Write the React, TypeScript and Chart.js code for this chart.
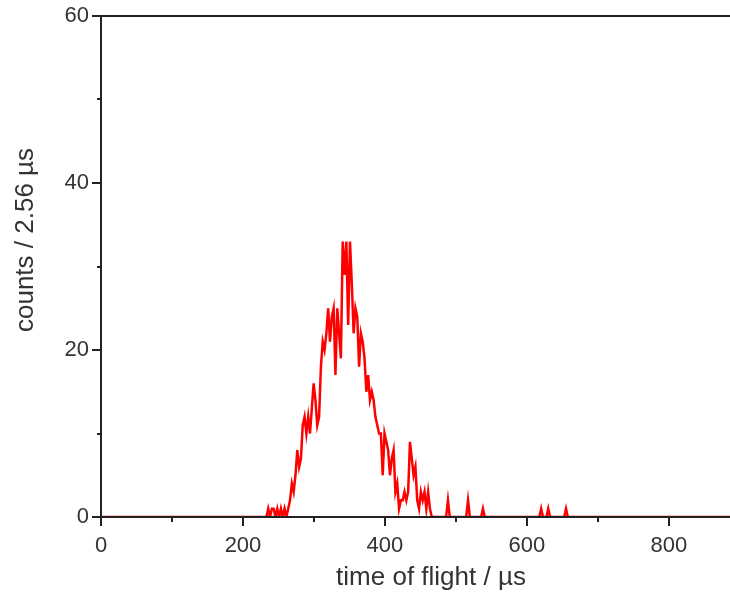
import React, { useEffect, useRef } from "react";
import { Chart, registerables } from "chart.js";

Chart.register(...registerables);

// Time-of-flight histogram (bin width 2.56 µs)
const binWidth = 2.56;
const peakStart = 230.4;
const peakCounts = [
  0, 0, 1, 0, 1, 1, 0, 1, 0, 1, 0, 1, 0, 1, 2, 4, 3, 5, 8, 6,
  7, 11, 12, 10, 12, 10, 13, 16, 14, 11, 12, 18, 21, 20, 22, 25, 21, 24, 25, 17,
  25, 22, 19, 33, 29, 33, 23, 33, 28, 22, 25, 24, 18, 22, 21, 19, 15, 17, 14, 15,
  14, 12, 11, 10, 10, 5, 10, 9, 8, 5, 7, 8, 3, 4, 1, 2, 2, 3, 2, 3,
  9, 7, 5, 6, 2, 1, 3, 2, 3, 1, 3, 1, 0, 0,
];
const eventTimes = [488.7, 517, 538, 620, 630, 655];
const eventCounts = [2, 2, 1, 1, 1, 1];

const xMin = 0;
const xMax = 886;
const yMin = 0;
const yMax = 60;
const xMajorTicks = [0, 200, 400, 600, 800];
const xMinorTicks = [100, 300, 500, 700];
const yMajorTicks = [0, 20, 40, 60];
const yMinorTicks = [10, 30, 50];
const xTitle = "time of flight / µs";
const yTitle = "counts / 2.56 µs";

function buildPoints() {
  const pts: { x: number; y: number }[] = [{ x: xMin, y: 0 }];
  peakCounts.forEach((c, i) => pts.push({ x: peakStart + i * binWidth, y: c }));
  eventTimes.forEach((t, i) => {
    pts.push({ x: t - binWidth, y: 0 });
    pts.push({ x: t, y: eventCounts[i] });
    pts.push({ x: t + binWidth, y: 0 });
  });
  pts.push({ x: xMax, y: 0 });
  return pts;
}

const FONT = "'Liberation Sans', Arial, sans-serif";

const axesPlugin = {
  id: "originAxes",
  afterDatasetsDraw(chart: any) {
    const { ctx, chartArea, scales } = chart;
    const xs = scales.x;
    const ys = scales.y;
    const L = chartArea.left;
    const R = chartArea.right;
    const T = chartArea.top;
    const B = chartArea.bottom;
    ctx.save();
    ctx.strokeStyle = "#222";
    ctx.lineWidth = 2;
    ctx.beginPath();
    ctx.moveTo(L, T);
    ctx.lineTo(R + 2, T);
    ctx.moveTo(L, T - 1);
    ctx.lineTo(L, B + 1);
    ctx.moveTo(L - 1, B);
    ctx.lineTo(R + 2, B);
    xMajorTicks.forEach((v) => {
      const px = Math.round(xs.getPixelForValue(v));
      ctx.moveTo(px, B);
      ctx.lineTo(px, B + 9);
    });
    xMinorTicks.forEach((v) => {
      const px = Math.round(xs.getPixelForValue(v));
      ctx.moveTo(px, B);
      ctx.lineTo(px, B + 5);
    });
    yMajorTicks.forEach((v) => {
      const py = Math.round(ys.getPixelForValue(v));
      ctx.moveTo(L, py);
      ctx.lineTo(L - 9, py);
    });
    yMinorTicks.forEach((v) => {
      const py = Math.round(ys.getPixelForValue(v));
      ctx.moveTo(L, py);
      ctx.lineTo(L - 4, py);
    });
    ctx.stroke();

    ctx.fillStyle = "#333";
    ctx.font = `26px ${FONT}`;
    ctx.textAlign = "center";
    ctx.textBaseline = "middle";
    ctx.fillText(xTitle, 431, 578);
    ctx.translate(26, 240);
    ctx.rotate(-Math.PI / 2);
    ctx.fillText(yTitle, 0, 0);
    ctx.restore();
  },
};

export default function App() {
  const ref = useRef<HTMLCanvasElement | null>(null);
  useEffect(() => {
    if (!ref.current) return;
    const chart = new Chart(ref.current, {
      type: "line",
      data: {
        datasets: [
          {
            data: buildPoints(),
            borderColor: "#ff0000",
            borderWidth: 2.5,
            pointRadius: 0,
            tension: 0,
            fill: false,
          },
        ],
      },
      options: {
        animation: false,
        responsive: false,
        layout: { padding: { top: 16, right: 0, left: 0, bottom: 0 } },
        plugins: { legend: { display: false }, tooltip: { enabled: false } },
        scales: {
          x: {
            type: "linear",
            min: xMin,
            max: xMax,
            grid: { display: false, drawTicks: false },
            border: { display: false },
            afterBuildTicks: (s: any) => {
              s.ticks = xMajorTicks.map((v) => ({ value: v }));
            },
            afterFit: (s: any) => {
              s.height = 80;
              s.paddingLeft = 0;
              s.paddingRight = 0;
            },
            ticks: {
              padding: 16,
              color: "#333",
              maxRotation: 0,
              autoSkip: false,
              font: { family: FONT, size: 22 },
            },
          },
          y: {
            type: "linear",
            min: yMin,
            max: yMax,
            grid: { display: false, drawTicks: false },
            border: { display: false },
            afterBuildTicks: (s: any) => {
              s.ticks = yMajorTicks.map((v) => ({ value: v }));
            },
            afterFit: (s: any) => {
              s.width = 101;
              s.paddingTop = 0;
              s.paddingBottom = 0;
            },
            ticks: {
              padding: 12,
              color: "#333",
              font: { family: FONT, size: 22 },
            },
          },
        },
      },
      plugins: [axesPlugin],
    });
    return () => chart.destroy();
  }, []);
  return (
    <div style={{ position: "absolute", left: 0, top: 0, width: 730, height: 597, background: "#fff" }}>
      <canvas ref={ref} width={730} height={597} />
    </div>
  );
}
